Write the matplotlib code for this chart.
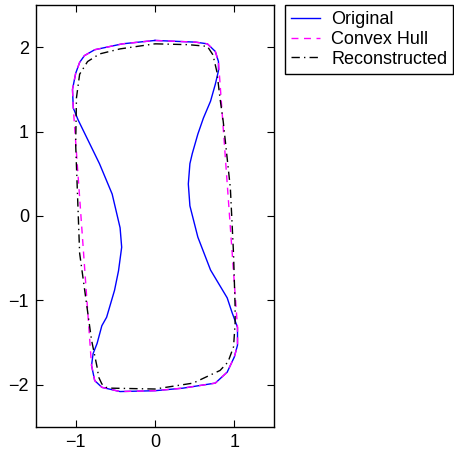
import matplotlib
matplotlib.use("Agg")
import matplotlib.pyplot as plt
import numpy as np

plt.rcParams['font.family'] = ['Liberation Sans', 'DejaVu Sans']

# Original contour (clockwise from top centre)
orig_x = [0.00, 0.51, 0.66, 0.76, 0.80, 0.80, 0.76, 0.70, 0.61, 0.54, 0.47, 0.44, 0.42, 0.44,
          0.54, 0.70, 0.91, 0.97, 1.04, 1.04, 1.00, 0.91, 0.76, 0.35, 0.00, -0.44, -0.67, -0.76,
          -0.80, -0.78, -0.73, -0.67, -0.61, -0.51, -0.46, -0.42, -0.44, -0.54, -0.70, -0.97,
          -1.03, -1.04, -1.00, -0.95, -0.89, -0.76, -0.41, 0.00]
orig_y = [2.08, 2.06, 2.04, 1.95, 1.83, 1.72, 1.56, 1.36, 1.16, 0.97, 0.74, 0.62, 0.38, 0.12,
          -0.25, -0.64, -0.97, -1.14, -1.32, -1.53, -1.67, -1.85, -1.98, -2.04, -2.07, -2.08, -2.03, -1.95,
          -1.77, -1.63, -1.51, -1.30, -1.20, -0.88, -0.65, -0.37, -0.14, 0.26, 0.62, 1.14,
          1.28, 1.50, 1.69, 1.82, 1.90, 1.97, 2.04, 2.08]

# Reconstructed contour
rec_x = [0.00, 0.42, 0.66, 0.73, 0.78, 0.82, 0.86, 0.95, 0.99, 1.01, 1.01, 0.99, 0.92, 0.82,
         0.48, 0.00, -0.54, -0.62, -0.67, -0.71, -0.73, -0.80, -0.86, -0.95, -1.00, -0.99, -0.95, -0.85,
         -0.70, -0.44, 0.00]
rec_y = [2.04, 2.03, 2.01, 1.91, 1.71, 1.39, 1.12, 0.33, -0.45, -1.08, -1.27, -1.55, -1.73, -1.83,
         -1.98, -2.05, -2.04, -2.03, -1.99, -1.91, -1.79, -1.47, -1.06, -0.44, 0.85, 1.40, 1.68, 1.83,
         1.92, 1.98, 2.04]

labels = ['Original', 'Convex Hull', 'Reconstructed']
x_ticks = [-1, 0, 1]
y_ticks = [-2, -1, 0, 1, 2]


def convex_hull(xs, ys):
    pts = sorted(set(zip(xs, ys)))

    def cross(o, a, b):
        return (a[0] - o[0]) * (b[1] - o[1]) - (a[1] - o[1]) * (b[0] - o[0])

    lower, upper = [], []
    for p in pts:
        while len(lower) >= 2 and cross(lower[-2], lower[-1], p) <= 0:
            lower.pop()
        lower.append(p)
    for p in reversed(pts):
        while len(upper) >= 2 and cross(upper[-2], upper[-1], p) <= 0:
            upper.pop()
        upper.append(p)
    hull = lower[:-1] + upper[:-1]
    hull.append(hull[0])
    return [p[0] for p in hull], [p[1] for p in hull]


hull_x, hull_y = convex_hull(orig_x, orig_y)

fig = plt.figure(figsize=(4.54, 4.55), dpi=100)
ax = fig.add_axes([36 / 454, 28 / 455, 238 / 454, 422 / 455])

l1, = ax.plot(orig_x, orig_y, color='#0000ff', lw=1.0, ls='-')
l2, = ax.plot(hull_x, hull_y, color='#ff00ff', lw=1.0, ls=(0, (5, 4)))
l3, = ax.plot(rec_x, rec_y, color='black', lw=1.0, ls=(0, (6, 3, 1, 3)))

ax.set_xlim(-1.5, 1.5)
ax.set_ylim(-2.5, 2.5)
ax.set_xticks(x_ticks)
ax.set_yticks(y_ticks)
ax.tick_params(direction='in', top=True, right=True, length=5, width=0.8, labelsize=13, pad=5)
for s in ax.spines.values():
    s.set_linewidth(1.0)

leg = fig.legend([l1, l2, l3], labels, loc='upper left', bbox_to_anchor=(285 / 454, 1 - 5 / 455),
                 bbox_transform=fig.transFigure, borderaxespad=0, fontsize=13, fancybox=False,
                 framealpha=1, edgecolor='black', handlelength=1.6, handletextpad=0.6,
                 labelspacing=0.15, borderpad=0.35)
leg.get_frame().set_linewidth(1.0)

fig.savefig('out.png', dpi=100)
